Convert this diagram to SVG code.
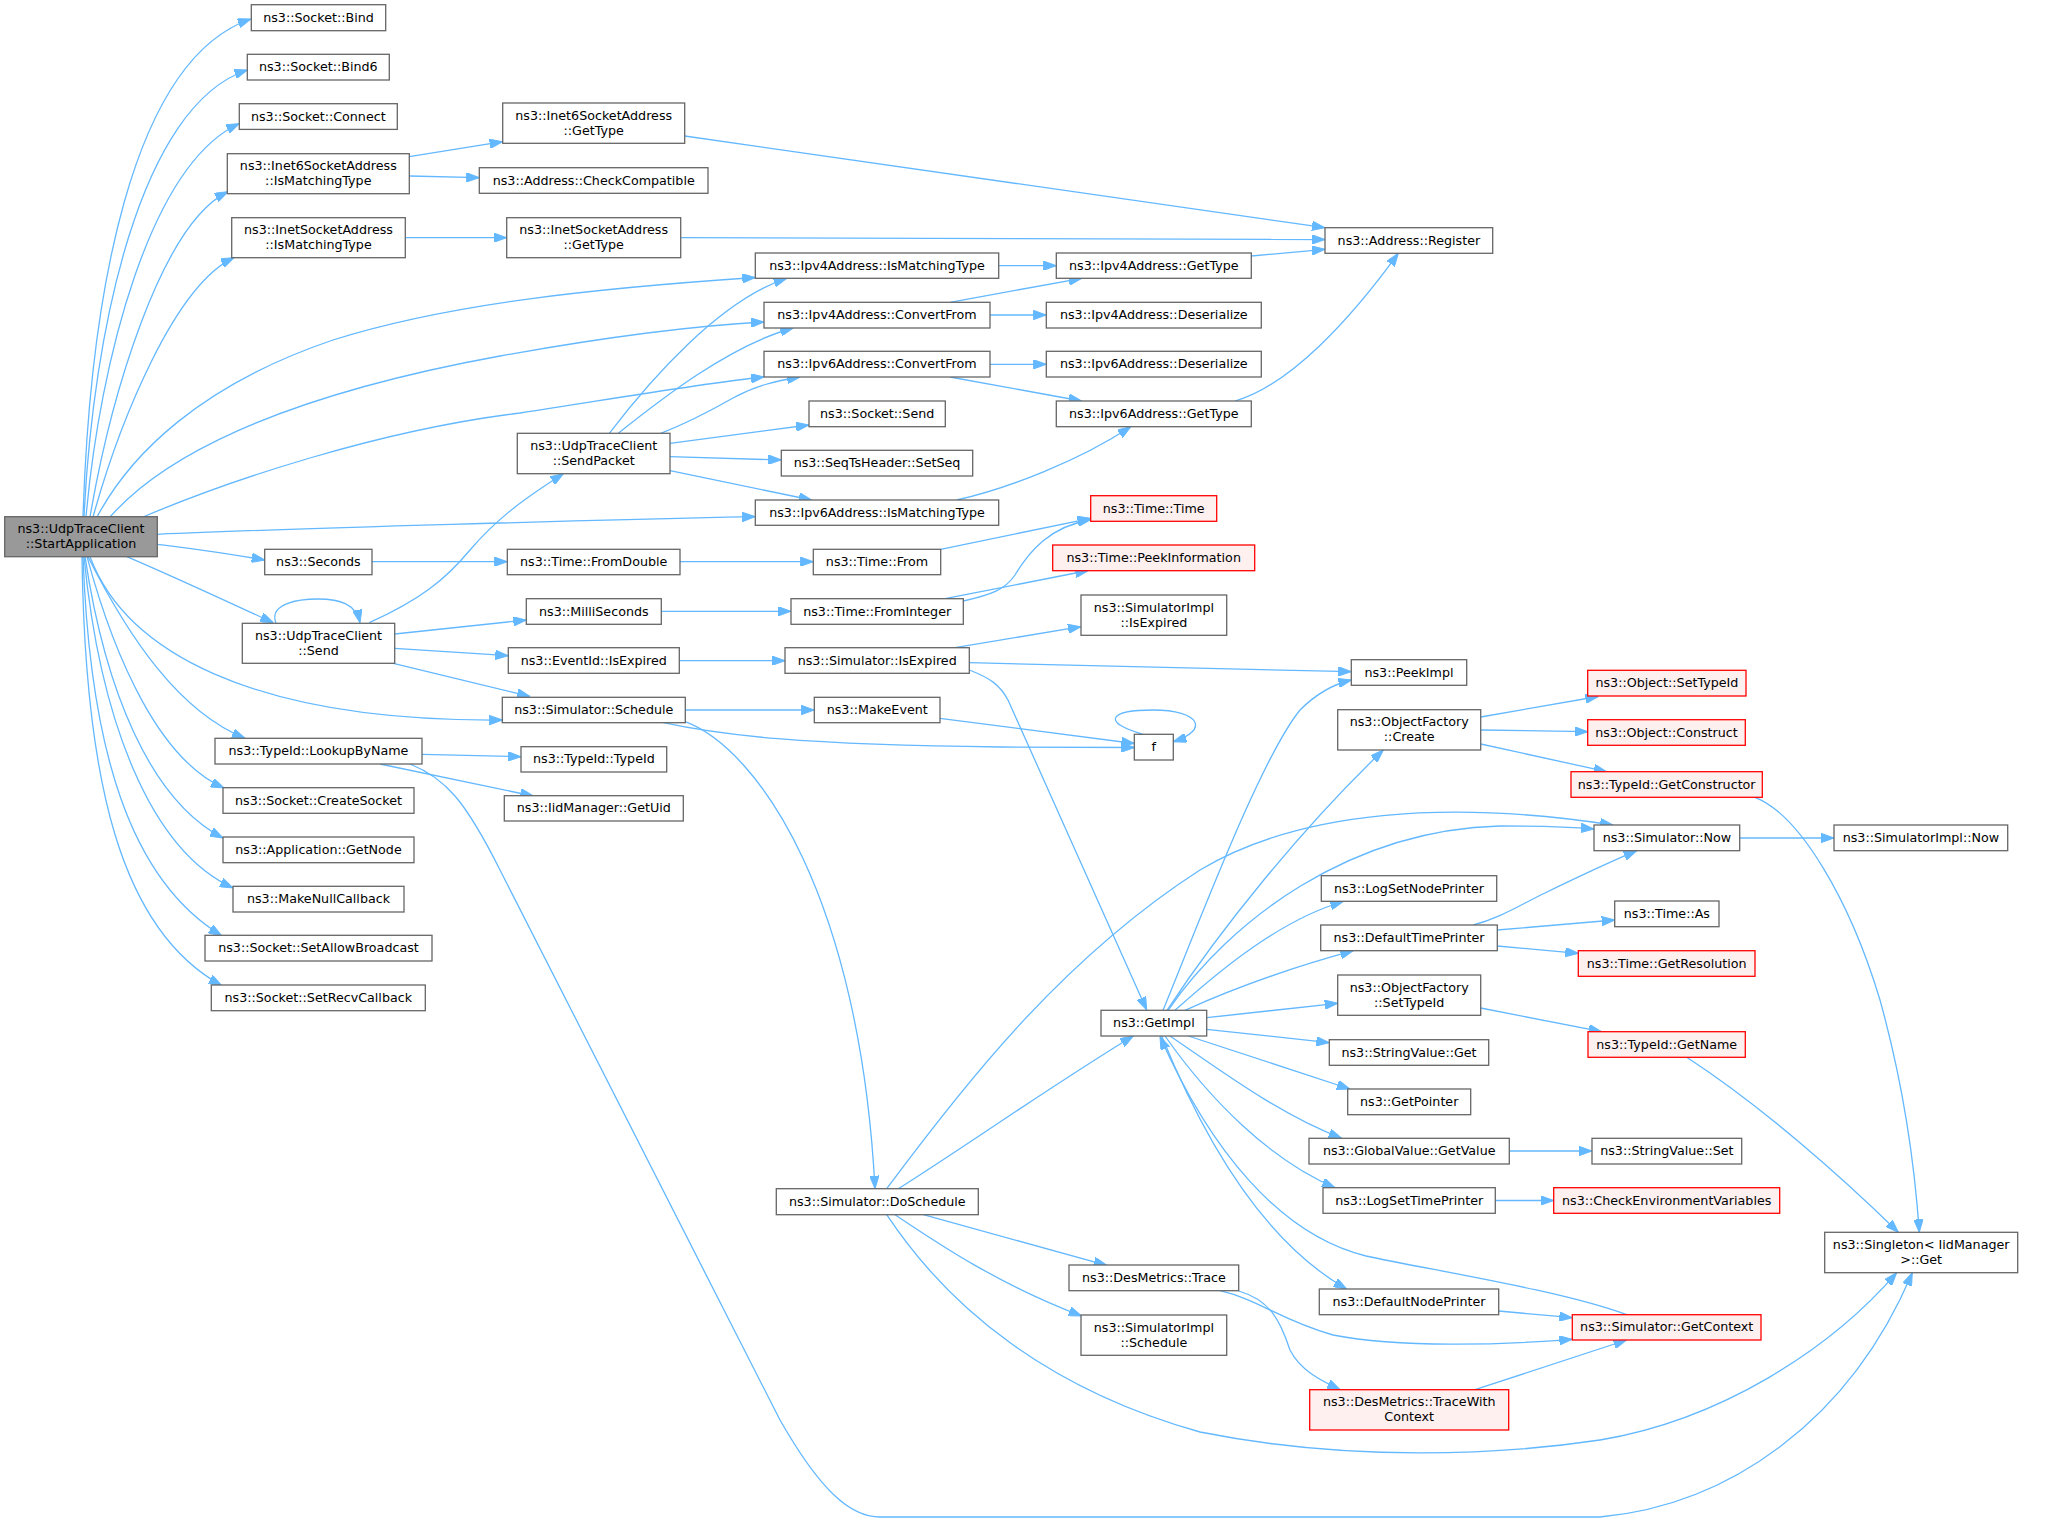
<svg xmlns="http://www.w3.org/2000/svg" width="2051" height="1526" viewBox="0 0 2051 1526">
<style>
.e{fill:none;stroke:#63b8ff;stroke-width:1.3;marker-end:url(#ah)}
.n rect{fill:#ffffff;stroke:#666666;stroke-width:1.3}
.r rect{fill:#fff0f0;stroke:#ff0000}
.s rect{fill:#999999}
text{font-family:"DejaVu Sans","Liberation Sans",sans-serif;font-size:12.7px;text-anchor:middle;fill:#000000}
</style>
<defs>
<marker id="ah" viewBox="0 0 13 9.4" refX="13" refY="4.7" markerWidth="13" markerHeight="9.4" markerUnits="userSpaceOnUse" orient="auto"><path d="M0,0 L13,4.7 L0,9.4 z" fill="#63b8ff" stroke="#63b8ff" stroke-width="1"/></marker>
</defs>
<rect x="0" y="0" width="2051" height="1526" fill="#ffffff"/>
<g id="edges">
<path class="e" d="M83,517 C90,300 130,60 251,19"/>
<path class="e" d="M84,517 C93,330 140,105 247.5,70"/>
<path class="e" d="M86,517 C100,360 150,165 239.3,123.5"/>
<path class="e" d="M90,517 C110,400 160,225 228,191.7"/>
<path class="e" d="M93,517 C120,420 175,285 234,257.7"/>
<path class="e" d="M97,517 C130,455 200,385 333,340 C450,303 600,288 755.3,277.5"/>
<path class="e" d="M110,517 C160,460 270,398 500,356 C600,338 690,326 764,322"/>
<path class="e" d="M143,517 C230,480 380,430 520,413 C600,401 690,385 764,377"/>
<path class="e" d="M157.3,534.3 C300,528 600,520 755.3,516.7"/>
<path class="e" d="M157.3,544.3 C200,549 230,554 264.7,560"/>
<path class="e" d="M126.7,556.7 C170,575 230,603 273.3,622.7"/>
<path class="e" d="M90,556.7 C125,650 250,722 502.3,720"/>
<path class="e" d="M88,556.7 C130,640 180,712 245,738.3"/>
<path class="e" d="M87,556.7 C115,660 160,760 224,788"/>
<path class="e" d="M85,556.7 C105,690 150,800 223,838"/>
<path class="e" d="M84,556.7 C100,720 150,850 233,888"/>
<path class="e" d="M83,556.7 C90,750 130,880 221.7,935.7"/>
<path class="e" d="M82,556.7 C85,780 120,930 221.7,985.5"/>
<path class="e" d="M409.3,156.7 L502.7,141.7"/>
<path class="e" d="M409.3,176 L479.3,177.7"/>
<path class="e" d="M405.3,237.7 L506.7,237.7"/>
<path class="e" d="M684.7,136 L1325,227.7"/>
<path class="e" d="M680.7,237.7 L1325,239.5"/>
<path class="e" d="M998.7,265.7 L1056.3,265.7"/>
<path class="e" d="M1251.3,256 L1325,249.3"/>
<path class="e" d="M950,302.3 L1081.7,278.3"/>
<path class="e" d="M990,315 L1046.3,315"/>
<path class="e" d="M990,364.3 L1046.3,364.3"/>
<path class="e" d="M950,377 L1081.7,401"/>
<path class="e" d="M1235,401 C1290,385 1350,320 1398.3,253.3"/>
<path class="e" d="M956.7,500 C1010,488 1080,460 1130.7,426.7"/>
<path class="e" d="M609.3,433.3 C650,380 720,300 786.7,278.3"/>
<path class="e" d="M618.3,433.3 C660,400 730,345 793.3,328"/>
<path class="e" d="M660.7,433.3 C690,422 712,410 733,398 C755,386 775,381 800,377"/>
<path class="e" d="M670,443.3 L809,425"/>
<path class="e" d="M670,456.7 L781.3,460"/>
<path class="e" d="M670,470.7 L811.7,500"/>
<path class="e" d="M369.3,622.7 C420,600 445,580 470,550 C500,515 530,495 563.3,473.7"/>
<path class="e" d="M276,623.3 C268,603 300,599 318,599 C340,599 356,604 360,622.7"/>
<path class="e" d="M394.7,634 L526.3,620"/>
<path class="e" d="M394.7,648.3 L508.3,655.7"/>
<path class="e" d="M393.3,663.3 L530,696.5"/>
<path class="e" d="M372,561.7 L507.3,561.7"/>
<path class="e" d="M680,561.7 L813.3,561.7"/>
<path class="e" d="M940.7,549.3 L1090.7,518.3"/>
<path class="e" d="M661.3,611.3 L791,611.3"/>
<path class="e" d="M963.3,601 C990,595 1005,590 1015,575 C1030,550 1050,527 1090.7,519.5"/>
<path class="e" d="M945,598.7 L1088.3,570.5"/>
<path class="e" d="M679.3,660.7 L785,660.7"/>
<path class="e" d="M955,647.7 L1081,626.7"/>
<path class="e" d="M969.3,662.7 L1351.3,671.7"/>
<path class="e" d="M969.3,670 C990,678 1000,685 1008,700 L1146.7,1010"/>
<path class="e" d="M685.3,710 L814.3,710"/>
<path class="e" d="M663.3,722.7 C720,735 800,745 1000,747 L1134.3,747.5"/>
<path class="e" d="M940,718.3 L1134.3,743.5"/>
<path class="e" d="M1143,734.3 C1100,722 1110,710 1153,710 C1200,710 1210,730 1173.3,741.7"/>
<path class="e" d="M685.3,721.7 C760,750 860,900 875,1188.7"/>
<path class="e" d="M422,754.3 L521,756.7"/>
<path class="e" d="M380,764 L533.3,796"/>
<path class="e" d="M410,764 C445,778 465,800 500,870 L780,1420 C820,1490 850,1517 880,1517 L1600,1517 C1730,1505 1850,1420 1912.3,1272.7"/>
<path class="e" d="M886.7,1188.7 C960,1090 1060,960 1200,870 C1300,810 1450,800 1613,825"/>
<path class="e" d="M898.3,1188.7 C960,1150 1060,1080 1133.3,1036"/>
<path class="e" d="M923.3,1214.7 L1106.7,1265.3"/>
<path class="e" d="M895,1214.7 C940,1245 1000,1285 1081.7,1316"/>
<path class="e" d="M886.7,1214.7 C950,1310 1050,1390 1200,1432 C1350,1462 1500,1455 1600,1440 C1720,1420 1830,1350 1896.7,1272.7"/>
<path class="e" d="M1163,1010.3 C1200,920 1260,760 1300,710 C1315,695 1330,685 1351.3,680"/>
<path class="e" d="M1167,1010.3 C1220,930 1300,830 1383.3,750"/>
<path class="e" d="M1168,1010.3 C1230,920 1350,830 1500,826 C1540,826 1570,827 1594,829"/>
<path class="e" d="M1175,1010.3 C1220,970 1280,920 1343.3,901.5"/>
<path class="e" d="M1185,1010.3 C1230,990 1290,968 1353.3,950.7"/>
<path class="e" d="M1206.7,1017.7 L1337.7,1003.3"/>
<path class="e" d="M1206.7,1029.3 L1329.3,1042.7"/>
<path class="e" d="M1188.3,1036 L1350,1089"/>
<path class="e" d="M1170,1036 C1220,1070 1280,1115 1341.7,1138.3"/>
<path class="e" d="M1165,1036 C1210,1100 1270,1160 1335,1187.7"/>
<path class="e" d="M1161.7,1036 C1200,1130 1260,1240 1346.7,1289"/>
<path class="e" d="M1626.7,1314.7 C1560,1290 1430,1270 1366,1256 C1280,1235 1210,1150 1160,1036.5"/>
<path class="e" d="M1480.7,717 L1598.3,696.5"/>
<path class="e" d="M1480.7,730 L1587.7,731.7"/>
<path class="e" d="M1480.7,744 L1606.7,771.7"/>
<path class="e" d="M1755,797.3 C1800,815 1850,900 1880,1000 C1905,1090 1915,1170 1919.3,1232.3"/>
<path class="e" d="M1739.7,838 L1834,838"/>
<path class="e" d="M1473.3,925 C1500,918 1520,905 1545,893 C1580,876 1610,862 1636.7,850.7"/>
<path class="e" d="M1497.3,930 L1614.7,920"/>
<path class="e" d="M1497.3,946 L1578.3,953.3"/>
<path class="e" d="M1480.7,1008 L1601.7,1031.7"/>
<path class="e" d="M1686.7,1057.3 C1760,1105 1840,1175 1898.3,1232.3"/>
<path class="e" d="M1509.3,1151 L1592,1151"/>
<path class="e" d="M1495.3,1200.5 L1553.7,1200.5"/>
<path class="e" d="M1498.7,1311 L1572.3,1317.7"/>
<path class="e" d="M1220,1290.7 C1260,1300 1280,1320 1333,1335 C1400,1348 1500,1345 1572.3,1339.3"/>
<path class="e" d="M1238.7,1291 C1270,1300 1280,1320 1290,1350 C1300,1370 1320,1380 1340,1389.7"/>
<path class="e" d="M1475,1389.7 L1626.7,1340"/>
</g>
<g id="n_startapp" class="n s"><rect x="4.7" y="516.7" width="152.6" height="40"/><text x="81" y="533.2">ns3::UdpTraceClient</text><text x="81" y="548.2">::StartApplication</text></g>
<g id="n_bind" class="n"><rect x="251.3" y="4.7" width="134.4" height="26"/><text x="318.5" y="21.7">ns3::Socket::Bind</text></g>
<g id="n_bind6" class="n"><rect x="247.3" y="54.3" width="142" height="25.7"/><text x="318.3" y="71.2">ns3::Socket::Bind6</text></g>
<g id="n_connect" class="n"><rect x="239.3" y="103.7" width="158" height="25.7"/><text x="318.3" y="120.6">ns3::Socket::Connect</text></g>
<g id="n_i6mt" class="n"><rect x="227.3" y="153.7" width="182" height="40"/><text x="318.3" y="170.2">ns3::Inet6SocketAddress</text><text x="318.3" y="185.2">::IsMatchingType</text></g>
<g id="n_imt" class="n"><rect x="231.7" y="217.7" width="173.6" height="40"/><text x="318.5" y="234.2">ns3::InetSocketAddress</text><text x="318.5" y="249.2">::IsMatchingType</text></g>
<g id="n_i6gt" class="n"><rect x="502.7" y="103" width="182" height="40.3"/><text x="593.7" y="119.7">ns3::Inet6SocketAddress</text><text x="593.7" y="134.7">::GetType</text></g>
<g id="n_cc" class="n"><rect x="479.3" y="167.7" width="228.7" height="25.6"/><text x="593.7" y="184.5">ns3::Address::CheckCompatible</text></g>
<g id="n_igt" class="n"><rect x="506.7" y="217.7" width="174" height="40"/><text x="593.7" y="234.2">ns3::InetSocketAddress</text><text x="593.7" y="249.2">::GetType</text></g>
<g id="n_reg" class="n"><rect x="1325" y="227.7" width="167.7" height="25.6"/><text x="1408.9" y="244.5">ns3::Address::Register</text></g>
<g id="n_v4mt" class="n"><rect x="755.3" y="253" width="243.4" height="25.3"/><text x="877" y="269.7">ns3::Ipv4Address::IsMatchingType</text></g>
<g id="n_v4gt" class="n"><rect x="1056.3" y="253" width="195" height="25.3"/><text x="1153.8" y="269.7">ns3::Ipv4Address::GetType</text></g>
<g id="n_v4cf" class="n"><rect x="764" y="302.3" width="226" height="25.7"/><text x="877" y="319.2">ns3::Ipv4Address::ConvertFrom</text></g>
<g id="n_v4ds" class="n"><rect x="1046.3" y="302.3" width="215" height="25.7"/><text x="1153.8" y="319.2">ns3::Ipv4Address::Deserialize</text></g>
<g id="n_v6cf" class="n"><rect x="764" y="351.3" width="226" height="25.7"/><text x="877" y="368.2">ns3::Ipv6Address::ConvertFrom</text></g>
<g id="n_v6ds" class="n"><rect x="1046.3" y="351.3" width="215" height="25.7"/><text x="1153.8" y="368.2">ns3::Ipv6Address::Deserialize</text></g>
<g id="n_ssend" class="n"><rect x="809" y="401" width="136.3" height="25.7"/><text x="877.2" y="417.9">ns3::Socket::Send</text></g>
<g id="n_v6gt" class="n"><rect x="1056.3" y="401" width="195" height="25.7"/><text x="1153.8" y="417.9">ns3::Ipv6Address::GetType</text></g>
<g id="n_sendpacket" class="n"><rect x="517.3" y="433.3" width="152.7" height="40.4"/><text x="593.7" y="450">ns3::UdpTraceClient</text><text x="593.7" y="465">::SendPacket</text></g>
<g id="n_setseq" class="n"><rect x="781.3" y="450.3" width="191.4" height="25.7"/><text x="877" y="467.2">ns3::SeqTsHeader::SetSeq</text></g>
<g id="n_v6mt" class="n"><rect x="755.3" y="500" width="243.4" height="25.3"/><text x="877" y="516.7">ns3::Ipv6Address::IsMatchingType</text></g>
<g id="n_timetime" class="n r"><rect x="1090.7" y="495.7" width="126" height="25.6"/><text x="1153.7" y="512.5">ns3::Time::Time</text></g>
<g id="n_peekinfo" class="n r"><rect x="1052.7" y="545" width="202" height="25.7"/><text x="1153.7" y="561.9">ns3::Time::PeekInformation</text></g>
<g id="n_seconds" class="n"><rect x="264.7" y="549.3" width="107.3" height="25.4"/><text x="318.4" y="566">ns3::Seconds</text></g>
<g id="n_fromdouble" class="n"><rect x="507.3" y="549.3" width="172.7" height="25.4"/><text x="593.7" y="566">ns3::Time::FromDouble</text></g>
<g id="n_from" class="n"><rect x="813.3" y="549.3" width="127.4" height="25.4"/><text x="877" y="566">ns3::Time::From</text></g>
<g id="n_simimplexp" class="n"><rect x="1081" y="595" width="145.7" height="40.3"/><text x="1153.9" y="611.7">ns3::SimulatorImpl</text><text x="1153.9" y="626.7">::IsExpired</text></g>
<g id="n_millis" class="n"><rect x="526.3" y="598.7" width="135" height="25.6"/><text x="593.8" y="615.5">ns3::MilliSeconds</text></g>
<g id="n_frominteger" class="n"><rect x="791" y="598.7" width="172.3" height="25.6"/><text x="877.2" y="615.5">ns3::Time::FromInteger</text></g>
<g id="n_send" class="n"><rect x="242.3" y="623.3" width="152.4" height="40"/><text x="318.5" y="639.8">ns3::UdpTraceClient</text><text x="318.5" y="654.8">::Send</text></g>
<g id="n_eventexp" class="n"><rect x="508.3" y="647.7" width="171" height="25.6"/><text x="593.8" y="664.5">ns3::EventId::IsExpired</text></g>
<g id="n_simexp" class="n"><rect x="785" y="647.7" width="184.3" height="25.6"/><text x="877.2" y="664.5">ns3::Simulator::IsExpired</text></g>
<g id="n_peekimpl" class="n"><rect x="1351.3" y="659.7" width="115.4" height="25.6"/><text x="1409" y="676.5">ns3::PeekImpl</text></g>
<g id="n_objsettypeid" class="n r"><rect x="1587.7" y="670.3" width="158.3" height="25.7"/><text x="1666.9" y="687.2">ns3::Object::SetTypeId</text></g>
<g id="n_schedule" class="n"><rect x="502.3" y="697.3" width="183" height="25.4"/><text x="593.8" y="714">ns3::Simulator::Schedule</text></g>
<g id="n_makeevent" class="n"><rect x="814.3" y="697.3" width="125.7" height="25.4"/><text x="877.2" y="714">ns3::MakeEvent</text></g>
<g id="n_ofcreate" class="n"><rect x="1337.7" y="709.7" width="143" height="40.3"/><text x="1409.2" y="726.4">ns3::ObjectFactory</text><text x="1409.2" y="741.4">::Create</text></g>
<g id="n_objconstruct" class="n r"><rect x="1587.7" y="719.7" width="157.6" height="25.6"/><text x="1666.5" y="736.5">ns3::Object::Construct</text></g>
<g id="n_f" class="n"><rect x="1134.3" y="734.3" width="39" height="25.7"/><text x="1153.8" y="751.2">f</text></g>
<g id="n_lookup" class="n"><rect x="215" y="738.3" width="207" height="25.7"/><text x="318.5" y="755.2">ns3::TypeId::LookupByName</text></g>
<g id="n_typeid" class="n"><rect x="521" y="746.7" width="145.7" height="25.3"/><text x="593.9" y="763.4">ns3::TypeId::TypeId</text></g>
<g id="n_getctor" class="n r"><rect x="1571" y="771.7" width="191.3" height="25.6"/><text x="1666.7" y="788.5">ns3::TypeId::GetConstructor</text></g>
<g id="n_createsocket" class="n"><rect x="223" y="787.7" width="191" height="25.6"/><text x="318.5" y="804.5">ns3::Socket::CreateSocket</text></g>
<g id="n_getuid" class="n"><rect x="504.3" y="795.7" width="179" height="25.3"/><text x="593.8" y="812.4">ns3::IidManager::GetUid</text></g>
<g id="n_now" class="n"><rect x="1594" y="825" width="145.7" height="25.7"/><text x="1666.9" y="841.9">ns3::Simulator::Now</text></g>
<g id="n_simimplnow" class="n"><rect x="1834" y="825" width="173.7" height="25.7"/><text x="1920.9" y="841.9">ns3::SimulatorImpl::Now</text></g>
<g id="n_getnode" class="n"><rect x="223" y="837" width="191" height="25.7"/><text x="318.5" y="853.9">ns3::Application::GetNode</text></g>
<g id="n_logsetnode" class="n"><rect x="1321.3" y="875.7" width="175.4" height="25.6"/><text x="1409" y="892.5">ns3::LogSetNodePrinter</text></g>
<g id="n_makenull" class="n"><rect x="233" y="886.3" width="171" height="25.7"/><text x="318.5" y="903.2">ns3::MakeNullCallback</text></g>
<g id="n_timeas" class="n"><rect x="1614.7" y="901" width="104.3" height="25.7"/><text x="1666.9" y="917.9">ns3::Time::As</text></g>
<g id="n_deftimeprinter" class="n"><rect x="1320.7" y="925" width="176.6" height="25.7"/><text x="1409" y="941.9">ns3::DefaultTimePrinter</text></g>
<g id="n_allowbcast" class="n"><rect x="205" y="935.3" width="227" height="25.7"/><text x="318.5" y="952.2">ns3::Socket::SetAllowBroadcast</text></g>
<g id="n_getres" class="n r"><rect x="1578.3" y="950.7" width="176.7" height="25.6"/><text x="1666.7" y="967.5">ns3::Time::GetResolution</text></g>
<g id="n_ofsettypeid" class="n"><rect x="1337.7" y="975" width="143" height="40.3"/><text x="1409.2" y="991.7">ns3::ObjectFactory</text><text x="1409.2" y="1006.7">::SetTypeId</text></g>
<g id="n_recvcb" class="n"><rect x="211.3" y="985" width="214" height="25.7"/><text x="318.3" y="1001.9">ns3::Socket::SetRecvCallback</text></g>
<g id="n_getimpl" class="n"><rect x="1101" y="1010.3" width="105.7" height="25.7"/><text x="1153.9" y="1027.2">ns3::GetImpl</text></g>
<g id="n_getname" class="n r"><rect x="1588" y="1031.7" width="157.3" height="25.6"/><text x="1666.7" y="1048.5">ns3::TypeId::GetName</text></g>
<g id="n_svget" class="n"><rect x="1329.3" y="1039.7" width="159.4" height="25.6"/><text x="1409" y="1056.5">ns3::StringValue::Get</text></g>
<g id="n_getpointer" class="n"><rect x="1347.7" y="1089" width="123" height="25.7"/><text x="1409.2" y="1105.9">ns3::GetPointer</text></g>
<g id="n_gvgetvalue" class="n"><rect x="1309" y="1138.3" width="200.3" height="25.7"/><text x="1409.2" y="1155.2">ns3::GlobalValue::GetValue</text></g>
<g id="n_svset" class="n"><rect x="1592" y="1138.3" width="149.7" height="25.7"/><text x="1666.9" y="1155.2">ns3::StringValue::Set</text></g>
<g id="n_doschedule" class="n"><rect x="776.3" y="1188.7" width="202" height="26"/><text x="877.3" y="1205.7">ns3::Simulator::DoSchedule</text></g>
<g id="n_logsettime" class="n"><rect x="1323" y="1187.7" width="172.3" height="25.6"/><text x="1409.2" y="1204.5">ns3::LogSetTimePrinter</text></g>
<g id="n_checkenv" class="n r"><rect x="1553.7" y="1187.7" width="226" height="25.6"/><text x="1666.7" y="1204.5">ns3::CheckEnvironmentVariables</text></g>
<g id="n_singleton" class="n"><rect x="1824.7" y="1232.3" width="193" height="40.4"/><text x="1921.2" y="1249">ns3::Singleton&lt; IidManager</text><text x="1921.2" y="1264">&gt;::Get</text></g>
<g id="n_dmtrace" class="n"><rect x="1069" y="1265" width="169.7" height="25.7"/><text x="1153.9" y="1281.9">ns3::DesMetrics::Trace</text></g>
<g id="n_defnodeprinter" class="n"><rect x="1319.3" y="1289" width="179.4" height="25.7"/><text x="1409" y="1305.9">ns3::DefaultNodePrinter</text></g>
<g id="n_getcontext" class="n r"><rect x="1572.3" y="1314.7" width="188.7" height="25.3"/><text x="1666.7" y="1331.4">ns3::Simulator::GetContext</text></g>
<g id="n_simimplsched" class="n"><rect x="1081" y="1315" width="145.7" height="40.3"/><text x="1153.9" y="1331.7">ns3::SimulatorImpl</text><text x="1153.9" y="1346.7">::Schedule</text></g>
<g id="n_tracewithctx" class="n r"><rect x="1309.7" y="1389.7" width="199" height="40.3"/><text x="1409.2" y="1406.4">ns3::DesMetrics::TraceWith</text><text x="1409.2" y="1421.4">Context</text></g>
</svg>
